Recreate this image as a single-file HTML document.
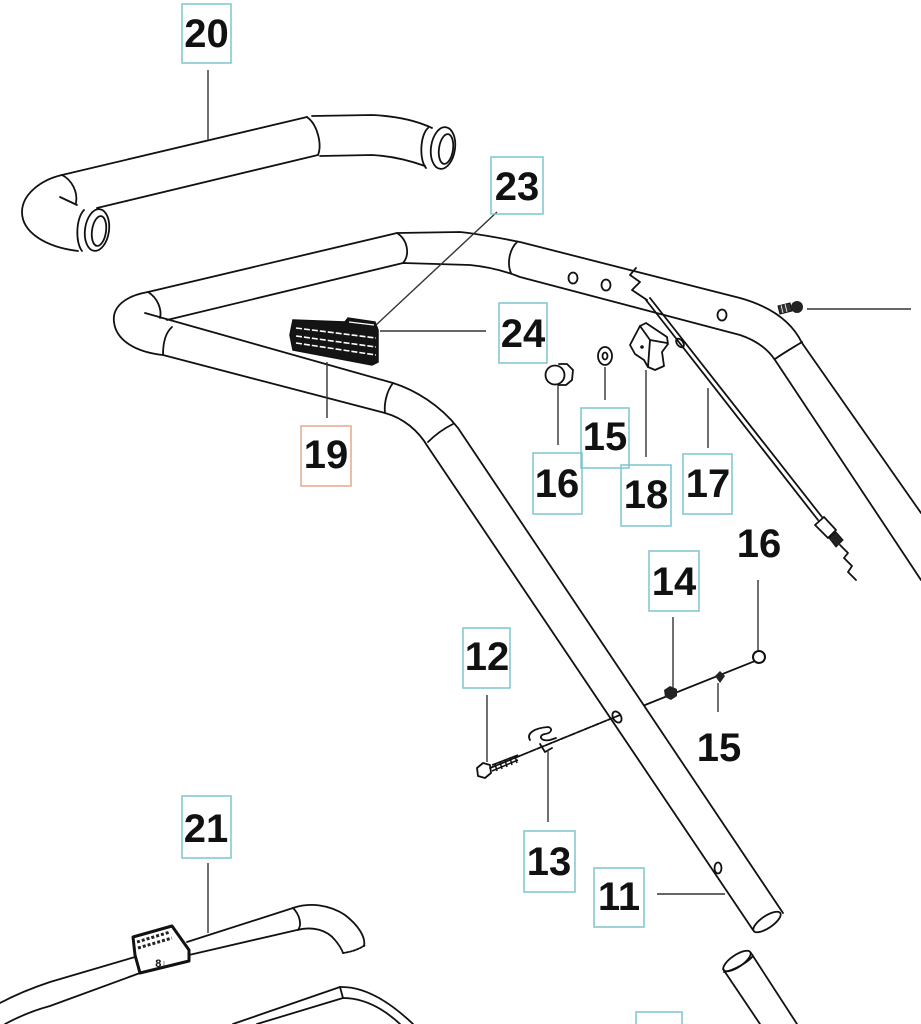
<!DOCTYPE html>
<html><head><meta charset="utf-8"><style>
html,body{margin:0;padding:0;background:#fff;}
svg{display:block;}
.l{fill:none;stroke:#111;stroke-width:1.8;stroke-linejoin:round;stroke-linecap:round;}
.ld{fill:none;stroke:#333;stroke-width:1.4;}
.bx{fill:none;stroke:#7cc6ce;stroke-width:1.5;}
.bo{fill:none;stroke:#e3a88c;stroke-width:1.5;}
text{font-family:"Liberation Sans",Arial,sans-serif;font-weight:bold;font-size:40px;fill:#111;text-anchor:middle;}
</style></head><body>
<svg width="921" height="1024" viewBox="0 0 921 1024" xmlns="http://www.w3.org/2000/svg">
<rect width="921" height="1024" fill="#fff"/>

<!-- Part 20 -->
<path class="l" d="M62,175 L307,117"/>
<path class="l" d="M97,208 L318,155"/>
<path class="l" d="M307,117 C318,125 322,145 318,155"/>
<path class="l" d="M312,116 L372,115 C395,116 415,120 432,128"/>
<path class="l" d="M320,156 L372,155 C392,156 408,160 425,166"/>
<path class="l" d="M428,128 C420,135 419,160 426,168"/>
<ellipse class="l" cx="443" cy="148" rx="12" ry="21" transform="rotate(8 443 148)"/>
<ellipse class="l" cx="446" cy="149" rx="7" ry="15" transform="rotate(8 446 149)"/>
<path class="l" d="M62,175 C40,180 22,195 22,212 C22,232 45,247 78,251"/>
<path class="l" d="M62,175 C72,180 78,192 76,203"/>
<path class="l" d="M60,197 L77,205"/>
<path class="l" d="M84,210 C76,218 75,242 82,251"/>
<ellipse class="l" cx="97" cy="230" rx="12" ry="21" transform="rotate(8 97 230)"/>
<ellipse class="l" cx="99" cy="231" rx="7" ry="15" transform="rotate(8 99 231)"/>
<path class="ld" d="M208,70 L208,140"/>

<!-- Main frame part 11 -->
<path class="l" d="M148,292 L397,233 L460,232 C480,234 500,238 520,242 L740,298 C765,305 790,318 802,343 L921,513"/>
<path class="l" d="M167,320 L403,263 L470,265 C490,267 505,271 520,277 L740,335 C755,340 767,348 775,360 L921,580"/>
<path class="l" d="M397,233 C408,240 410,255 403,263"/>
<path class="l" d="M517,242 C509,250 507,264 511,273"/>
<path class="l" d="M775,359 C785,352 794,347 802,342"/>
<ellipse class="l" cx="573" cy="278" rx="4.5" ry="5.5"/>
<ellipse class="l" cx="606" cy="285" rx="4.5" ry="5.5"/>
<ellipse class="l" cx="722" cy="315" rx="4.5" ry="5.5"/>
<!-- left elbow -->
<path class="l" d="M148,292 C125,296 112,307 114,322 C116,340 135,352 163,355"/>
<path class="l" d="M148,292 C158,298 162,310 160,318"/>
<path class="l" d="M172,327 C165,333 163,345 163,355"/>
<!-- leg -->
<path class="l" d="M145,313 L393,383 C415,390 440,405 458,428 L783,913"/>
<path class="l" d="M163,355 L385,413 C403,418 418,430 428,447 L753,930"/>
<path class="l" d="M393,383 C386,392 384,405 385,413"/>
<path class="l" d="M428,442 C436,434 445,428 453,424"/>
<ellipse class="l" cx="767" cy="922" rx="16" ry="6" transform="rotate(-34 767 922)"/>
<ellipse class="l" cx="718" cy="868" rx="3.5" ry="5.5"/>
<path class="ld" d="M657,894 L725,894"/>
<!-- lower tube -->
<path class="l" d="M723,969 L760,1024"/>
<path class="l" d="M751,953 L797,1024"/>
<ellipse class="l" cx="737" cy="961" rx="16" ry="6" transform="rotate(-34 737 961)"/>
<path class="l" d="M724,972 C735,970 748,962 753,956"/>

<!-- Bracket 19/24 -->
<polygon points="293,320 345,322 348,318 375,322 378,330 378,362 372,365 293,350 290,335" fill="#141414" stroke="#111" stroke-width="1.5"/>
<path d="M296,328 L376,338 M296,336 L376,347 M296,343 L376,355" stroke="#fff" stroke-width="1.6" stroke-dasharray="6 2" fill="none"/>
<path d="M349,322 L374,325" stroke="#fff" stroke-width="1.2"/>
<path class="ld" d="M497,212 L376,325"/>
<path class="ld" d="M380,331 L486,331"/>
<path class="ld" d="M327,362 L327,418"/>

<!-- 16 cap nut -->
<circle class="l" cx="555" cy="375" r="9.5"/>
<path class="l" d="M559,364 L567,364 L573,370 L572,380 L566,385 L558,385"/>
<path class="ld" d="M558,386 L558,445"/>
<!-- 15 washer -->
<ellipse class="l" cx="605" cy="356" rx="7" ry="9"/>
<ellipse class="l" cx="605" cy="356" rx="2.5" ry="3.5"/>
<path class="ld" d="M605,367 L605,400"/>
<!-- 18 block -->
<path class="l" d="M630,345 L640,326 L646,323 L667,337 L668,344 L662,352 L664,366 L655,370 L648,367 L644,360 L635,354 Z"/>
<path class="l" d="M640,326 L650,340 L667,343 M650,340 L648,367"/>
<circle cx="642" cy="347" r="1.8" fill="#111"/>
<path class="ld" d="M646,370 L646,457"/>

<!-- 17 cable -->
<path class="l" d="M636,268 L630,275 L640,282 L632,290 L647,300"/>
<path class="l" d="M646,300 L818,520"/>
<path class="l" d="M650,298 L822,517" stroke-width="1.3"/>
<ellipse class="l" cx="680" cy="343" rx="3" ry="5" transform="rotate(-38 680 343)"/>
<polygon class="l" points="815,525 824,517 836,530 828,538"/>
<polygon points="829,538 836,532 843,540 836,547" fill="#222" stroke="#111" stroke-width="1"/>
<path class="l" d="M840,545 L848,553 L844,558 L852,566 L848,572 L856,580"/>
<path class="ld" d="M708,388 L708,448"/>

<!-- bolt top right -->
<polygon points="778,306 790,303 792,311 780,314" fill="#333" stroke="#111" stroke-width="1"/>
<circle cx="797" cy="307" r="6" fill="#222"/>
<path d="M781,305 L783,313 M785,304 L787,312" stroke="#fff" stroke-width="0.8"/>
<path class="ld" d="M807,309 L911,309"/>

<!-- rod 14/15/16 -->
<path class="l" d="M645,705 L765,657" stroke-width="2"/>
<polygon points="664,690 670,686 677,689 677,696 671,700 665,697" fill="#222"/>
<polygon points="715,676 720,671 725,676 720,683" fill="#222"/>
<circle cx="759" cy="657" r="6" fill="#fff" stroke="#111" stroke-width="2"/>
<path class="ld" d="M758,580 L758,650"/>
<path class="ld" d="M673,617 L673,688"/>
<path class="ld" d="M718,683 L718,712"/>

<!-- rod 12/13 -->
<path class="l" d="M490,768 L620,715" stroke-width="1.4" stroke-dasharray="7 1.5"/>
<polygon class="l" points="477,768 483,763 490,765 491,773 485,778 478,776"/>
<path d="M492,765 L518,755 M492,771 L518,760" stroke="#111" stroke-width="1.5" fill="none"/>
<path d="M495,764 L497,771 M500,762 L502,769 M505,760 L507,767 M510,758 L512,765 M515,756 L517,763" stroke="#111" stroke-width="1.5"/>
<path class="l" d="M530,740 C526,733 535,728 548,727 C553,728 552,733 545,734 C538,735 540,742 550,740 L556,738"/>
<path class="l" d="M540,744 L545,752 L552,748"/>
<ellipse class="l" cx="617" cy="717" rx="4" ry="6" transform="rotate(-30 617 717)"/>
<path class="ld" d="M487,695 L487,762"/>
<path class="ld" d="M548,750 L548,822"/>

<!-- Part 21 -->
<path class="l" d="M0,1003 C15,995 35,987 50,982 L135,957"/>
<path class="l" d="M187,942 L293,908 C310,902 330,905 345,915 C358,925 366,937 364,946"/>
<path class="l" d="M5,1024 C20,1016 35,1010 50,1006 L140,973"/>
<path class="l" d="M189,955 L297,930 C313,926 327,930 335,940 C340,946 342,950 343,953"/>
<path class="l" d="M343,953 C350,952 358,950 365,945" stroke-dasharray="2 1.5"/>
<path class="l" d="M293,908 C300,915 302,925 298,930"/>
<polygon points="133,937 172,926 189,950 189,961 140,973 135,955" fill="#fff" stroke="#111" stroke-width="3" stroke-linejoin="round"/>
<path d="M137,942 L170,932 M138,948 L172,938" stroke="#222" stroke-width="3" stroke-dasharray="3 2"/>
<text x="161" y="967" style="font-size:11px;">8↓</text>
<path class="ld" d="M208,863 L208,933"/>
<path class="l" d="M233,1024 L340,987 C367,986 393,1005 413,1024"/>
<path class="l" d="M257,1024 L343,998 C367,998 387,1012 400,1024"/>
<path class="l" d="M340,987 L343,998"/>

<!-- Labels -->
<rect class="bx" x="182" y="4" width="49" height="59"/><text x="206.5" y="47">20</text>
<rect class="bx" x="491" y="157" width="52" height="57"/><text x="517" y="200">23</text>
<rect class="bx" x="499" y="303" width="48" height="60"/><text x="523" y="347">24</text>
<rect class="bo" x="301" y="426" width="50" height="60"/><text x="326" y="468">19</text>
<rect class="bx" x="581" y="408" width="48" height="60"/><text x="605" y="450">15</text>
<rect class="bx" x="533" y="453" width="49" height="61"/><text x="557" y="497">16</text>
<rect class="bx" x="621" y="465" width="50" height="61"/><text x="646" y="508">18</text>
<rect class="bx" x="683" y="454" width="49" height="60"/><text x="708" y="497">17</text>
<text x="759" y="557">16</text>
<rect class="bx" x="649" y="551" width="50" height="60"/><text x="674" y="595">14</text>
<rect class="bx" x="463" y="628" width="47" height="60"/><text x="487" y="670">12</text>
<text x="719" y="761">15</text>
<rect class="bx" x="524" y="831" width="51" height="61"/><text x="549" y="875">13</text>
<rect class="bx" x="594" y="868" width="50" height="59"/><text x="619" y="910">11</text>
<rect class="bx" x="182" y="796" width="49" height="62"/><text x="206" y="842">21</text>
<rect class="bx" x="636" y="1012" width="46" height="30"/>
</svg>
</body></html>
